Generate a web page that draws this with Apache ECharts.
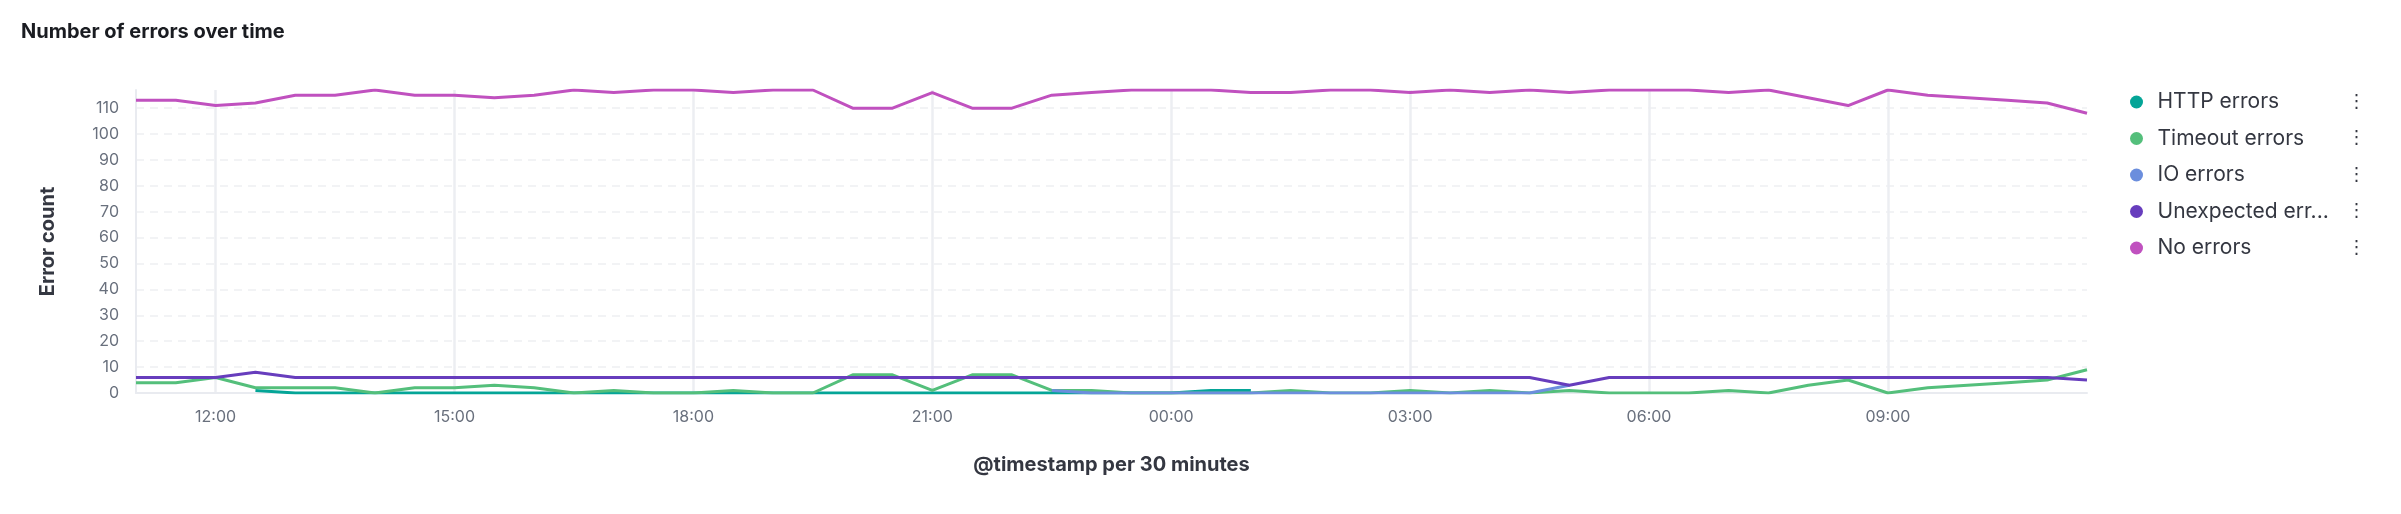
<!DOCTYPE html>
<html>
<head>
<meta charset="utf-8">
<script src="https://cdn.jsdelivr.net/npm/echarts@6/dist/echarts.min.js"></script>
<style>
  html, body { margin: 0; padding: 0; background: #ffffff; }
  #chart { width: 2401px; height: 514px; }
</style>
</head>
<body>
<div id="chart"></div>
<script>
const categories = [
  "11:00","11:30","12:00","12:30","13:00","13:30","14:00","14:30","15:00","15:30",
  "16:00","16:30","17:00","17:30","18:00","18:30","19:00","19:30","20:00","20:30",
  "21:00","21:30","22:00","22:30","23:00","23:30","00:00","00:30","01:00","01:30",
  "02:00","02:30","03:00","03:30","04:00","04:30","05:00","05:30","06:00","06:30",
  "07:00","07:30","08:00","08:30","09:00","09:30","10:00","10:30","11:00","11:30"
];

const httpErrors = [
  null, null, null, 1, 0, 0, 0, 0, 0, 0,
  0, 0, 0, 0, 0, 0, 0, 0, 0, 0,
  0, 0, 0, 0, 0, 0, 0, 1, 1, null,
  null, null, null, null, null, null, null, null, null, null,
  null, null, null, null, null, null, null, null, null, null
];

const timeoutErrors = [
  4, 4, 6, 2, 2, 2, 0, 2, 2, 3,
  2, 0, 1, 0, 0, 1, 0, 0, 7, 7,
  1, 7, 7, 1, 1, 0, 0, 0, 0, 1,
  0, 0, 1, 0, 1, 0, 1, 0, 0, 0,
  1, 0, 3, 5, 0, 2, 3, 4, 5, 9
];

const ioErrors = [
  null, null, null, null, null, null, null, null, null, null,
  null, null, null, null, null, null, null, null, null, null,
  null, null, null, 1, 0, 0, 0, 0, 0, 0,
  0, 0, 0, 0, 0, 0, 3, null, null, null,
  null, null, null, null, null, null, null, null, null, null
];

const unexpectedErrors = [
  6, 6, 6, 8, 6, 6, 6, 6, 6, 6,
  6, 6, 6, 6, 6, 6, 6, 6, 6, 6,
  6, 6, 6, 6, 6, 6, 6, 6, 6, 6,
  6, 6, 6, 6, 6, 6, 3, 6, 6, 6,
  6, 6, 6, 6, 6, 6, 6, 6, 6, 5
];

const noErrors = [
  113, 113, 111, 112, 115, 115, 117, 115, 115, 114,
  115, 117, 116, 117, 117, 116, 117, 117, 110, 110,
  116, 110, 110, 115, 116, 117, 117, 117, 116, 116,
  117, 117, 116, 117, 116, 117, 116, 117, 117, 117,
  116, 117, 114, 111, 117, 115, 114, 113, 112, 108
];

const seriesNames = ["HTTP errors", "Timeout errors", "IO errors", "Unexpected errors", "No errors"];
const seriesData = [httpErrors, timeoutErrors, ioErrors, unexpectedErrors, noErrors];
const seriesColors = ["#04a597", "#54bf7b", "#6b8edd", "#673dbd", "#c051bf"];

const FONT = 'Inter, "Noto Sans", "DejaVu Sans", sans-serif';

const chart = echarts.init(document.getElementById('chart'), null, { renderer: 'canvas' });

const option = {
  backgroundColor: '#ffffff',
  animation: false,
  color: seriesColors,
  title: {
    text: 'Number of errors over time',
    left: 21,
    top: 19,
    padding: 0,
    textStyle: { fontFamily: FONT, fontSize: 20, fontWeight: 700, color: '#1a1c21', lineHeight: 25 }
  },
  legend: {
    orient: 'vertical',
    left: 2130,
    top: 91,
    itemWidth: 32,
    itemHeight: 13,
    itemGap: 14.5,
    icon: 'circle',
    padding: 0,
    data: seriesNames,
    formatter: function (name) {
      const short = name.length > 14 ? name.slice(0, 14) + '...' : name;
      return '{t|' + short + '}{d|⋮}';
    },
    textStyle: {
      fontFamily: FONT,
      fontSize: 21,
      color: '#343741',
      lineHeight: 22,
      rich: {
        t: { fontFamily: FONT, fontSize: 21, color: '#343741', width: 190, lineHeight: 22 },
        d: { fontFamily: '"DejaVu Sans", sans-serif', fontSize: 18, color: '#343741', lineHeight: 22 }
      }
    }
  },
  grid: {
    left: 136,
    right: 314,
    top: 90,
    bottom: 121,
    containLabel: false
  },
  xAxis: {
    type: 'category',
    data: categories,
    boundaryGap: false,
    name: '@timestamp per 30 minutes',
    nameLocation: 'middle',
    nameGap: 62,
    nameTextStyle: { fontFamily: FONT, fontSize: 20, fontWeight: 700, color: '#343741', verticalAlign: 'top' },
    axisLine: { show: true, lineStyle: { color: '#e9ebf0', width: 2 } },
    axisTick: { show: false },
    axisLabel: {
      interval: function (index) { return index % 6 === 2; },
      margin: 16,
      fontFamily: FONT,
      fontSize: 16,
      color: '#69707d'
    },
    splitLine: {
      show: true,
      interval: function (index) { return index % 6 === 2; },
      lineStyle: { color: '#eceef2', width: 2.5, type: 'solid' }
    }
  },
  yAxis: {
    type: 'value',
    min: 0,
    max: 117,
    interval: 10,
    name: 'Error count',
    nameLocation: 'middle',
    nameRotate: 90,
    nameGap: 78,
    nameTextStyle: { fontFamily: FONT, fontSize: 20, fontWeight: 700, color: '#343741' },
    axisLine: { show: true, lineStyle: { color: '#e9ebf0', width: 2 } },
    axisTick: { show: false },
    axisLabel: {
      margin: 17,
      showMaxLabel: false,
      fontFamily: FONT,
      fontSize: 16,
      color: '#69707d'
    },
    splitLine: {
      show: true,
      showMaxLine: false,
      lineStyle: { color: '#eeeff2', width: 1.5, type: [8, 6] }
    }
  },
  series: seriesNames.map(function (name, i) {
    return {
      name: name,
      type: 'line',
      data: seriesData[i],
      showSymbol: false,
      symbol: 'none',
      connectNulls: false,
      lineStyle: { width: 3, color: seriesColors[i] },
      itemStyle: { color: seriesColors[i] },
      z: 2 + i
    };
  })
};

chart.setOption(option);
</script>
</body>
</html>
